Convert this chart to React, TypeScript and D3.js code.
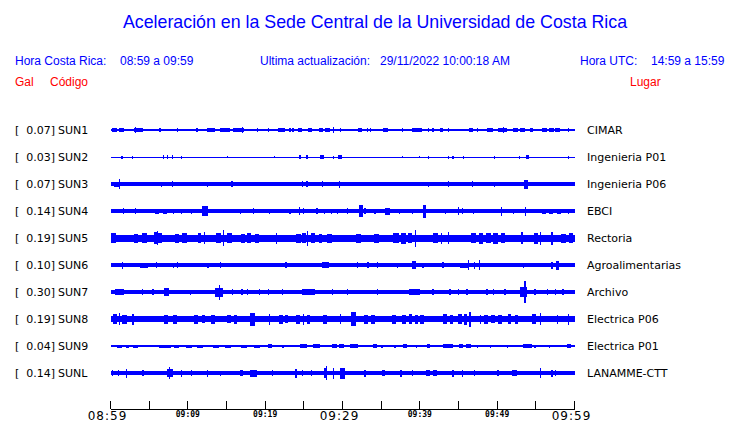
import * as d3 from "d3";

// stations, places and peak acceleration (Gal)
const stations = ["SUN1", "SUN2", "SUN3", "SUN4", "SUN5", "SUN6", "SUN7", "SUN8", "SUN9", "SUNL"];
const places = ["CIMAR", "Ingenieria P01", "Ingenieria P06", "EBCI", "Rectoria", "Agroalimentarias", "Archivo", "Electrica P06", "Electrica P01", "LANAMME-CTT"];
const peakGal = [0.07, 0.03, 0.07, 0.14, 0.19, 0.1, 0.3, 0.19, 0.04, 0.14];

// background noise half-amplitude of each trace
const noiseAmp = [0.8, 0.5, 1.7, 1.7, 3.5, 1.7, 2, 3, 0.7, 2];

// bursts: [minute after 08:59, half-amplitude, duration in minutes]
type Burst = [number, number, number?];
const sun1: Burst[] = [[0.5, 2, 0.6], [1.4, 1.8, 0.6], [3.6, 2.2, 1.2], [3.2, 3], [6.4, 1.8], [8.7, 1.6], [11.2, 1.6], [13.0, 1.8, 1.0], [14.8, 1.8, 1.2], [16.6, 2, 1.4], [17.1, 3], [19.0, 1.8], [20.4, 1.8], [22.1, 2.2, 1.0], [23.2, 1.6], [23.6, 1.6], [24.5, 1.8, 0.5], [25.8, 1.8, 0.6], [27.2, 1.8, 0.6], [28.1, 2, 0.6], [28.8, 3], [29.7, 1.6], [32.3, 1.8, 0.5], [33.2, 1.6], [33.6, 1.6], [35.6, 2, 0.6], [37.8, 1.6], [39.6, 2, 1.3], [41.1, 1.6], [41.7, 1.6], [42.8, 1.8, 0.4], [43.7, 1.6], [46.6, 1.8, 0.6], [47.5, 1.6], [49.1, 2, 0.8], [50.7, 2, 1.2], [50.8, 3], [52.4, 2, 0.6], [53.3, 1.8, 0.6], [54.4, 1.8, 0.4], [56.1, 2, 0.6], [57.0, 1.8, 0.6], [57.8, 2, 0.6], [59.2, 1.8]];
const sun2: Burst[] = [[1.5, 1.5], [2.8, 1.5], [6.9, 1.8], [7.4, 1.8], [8.0, 1.8], [9.2, 1.5], [15.1, 1.2], [21.2, 1.2], [24.5, 1.8], [25.4, 1.8], [27.3, 2, 0.5], [28.8, 1.5], [29.7, 2, 0.5], [37.8, 1.2], [40.0, 1.2], [41.1, 1.5], [43.7, 1.5], [44.3, 1.5], [45.6, 1.5], [49.7, 1.5], [52.9, 1.5], [53.9, 2, 0.4], [59.2, 1.5]];
const sun3: Burst[] = [[0.8, 2.5, 0.8], [1.2, 5], [6.6, 2.5], [8.0, 3], [12.5, 2.5], [15.7, 3, 0.3], [24.8, 3], [25.4, 3], [27.4, 3], [29.6, 3.5], [41.1, 2.5], [43.7, 3], [46.8, 3], [49.0, 2.3, 0.8], [49.7, 2.5], [53.7, 4.5, 0.5]];
const sun4: Burst[] = [[0.3, 2.3, 0.6], [1.7, 3], [3.2, 3], [6.0, 2.5, 0.5], [7.0, 2.5, 0.5], [8.1, 2.5], [9.2, 2.5], [10.5, 2.5], [12.2, 5, 0.8], [14.0, 2.3, 0.5], [15.0, 2.3, 0.5], [16.0, 2.3, 0.5], [16.8, 2.5], [18.5, 3], [20.6, 2.5], [23.2, 2.5], [24.4, 4], [25.0, 3], [26.7, 3], [27.7, 2.5], [28.6, 2.5], [29.4, 2.5], [30.6, 3], [32.4, 6, 0.6], [32.9, 3], [34.2, 2.5], [35.8, 3.5, 0.6], [37.4, 2.5], [39.1, 2.5], [40.6, 6.5, 0.5], [43.3, 2.5], [45.0, 4], [45.5, 3], [46.9, 2.5], [50.6, 4.5], [52.1, 2.5], [53.7, 4.5], [56.0, 2.5, 0.5], [57.0, 2.5, 0.5], [58.0, 2.5, 0.5], [59.2, 2.5]];
const sun5: Burst[] = [[0.4, 5, 0.6], [3.3, 4.5, 0.6], [4.4, 5, 0.6], [5.8, 6, 0.4], [6.1, 7], [6.4, 5, 0.4], [8.6, 4.5, 0.6], [9.6, 5, 0.6], [11.5, 5, 0.5], [12.2, 6], [14.0, 5, 0.6], [14.6, 8], [15.4, 5, 0.6], [17.1, 4.5, 0.5], [17.9, 5, 0.6], [18.9, 4.5, 0.5], [21.5, 5.5], [24.3, 4.5, 0.6], [25.0, 5, 0.5], [25.5, 7.5], [26.2, 5, 0.6], [27.1, 4.5, 0.4], [28.3, 4.5, 0.6], [32.1, 4.5, 0.6], [34.4, 4.5, 0.6], [36.9, 5, 0.7], [37.9, 5.5, 0.6], [38.7, 5, 0.5], [39.4, 8.5], [42.0, 5, 0.6], [42.8, 5.5], [43.7, 6], [46.9, 5, 0.6], [47.9, 5.5, 0.5], [48.9, 5, 0.6], [49.8, 5.5, 0.6], [50.7, 5, 0.5], [53.2, 6], [55.0, 5.5, 0.5], [55.6, 6.5], [57.1, 6.5], [58.6, 4.5, 0.6], [59.5, 5, 0.5]];
const sun6: Burst[] = [[1.6, 3.5], [4.3, 2.5, 1], [5.9, 3], [8.1, 2.5], [8.7, 3], [12.6, 2.5], [14.2, 3], [22.7, 3], [27.8, 3, 0.8], [31.9, 3], [33.3, 3], [34.5, 3], [37.1, 2.5], [39.3, 4, 0.5], [40.4, 2.5], [43.0, 3], [45.7, 2.5, 1], [46.3, 5], [47.1, 3.5], [47.7, 5], [53.4, 2.5], [57.1, 3.5], [57.8, 4.5, 0.5]];
const sun7: Burst[] = [[1.2, 3, 1.2], [4.1, 3], [5.5, 3], [7.2, 4, 0.6], [10.3, 2.5], [14.0, 4.5, 1], [14.1, 7.5], [15.8, 3], [17.0, 3], [17.7, 3], [19.3, 3], [20.4, 3], [22.2, 3], [25.6, 3, 1.8], [28.7, 3], [30.6, 3], [34.5, 3], [39.3, 3, 1.4], [41.7, 3], [43.9, 3], [45.0, 3], [46.1, 3], [48.7, 3], [49.5, 3], [51.0, 3], [53.4, 5, 0.8], [53.6, 11], [54.9, 3], [56.5, 3], [57.5, 3], [58.5, 3]];
const sun8: Burst[] = [[0.6, 5, 0.6], [1.2, 6], [1.8, 4.5, 0.6], [2.9, 5.5], [7.2, 4.5, 0.5], [8.3, 4.5, 0.5], [11.1, 4.5, 0.5], [12.0, 4, 0.4], [13.3, 4.5, 0.5], [15.3, 4, 0.5], [16.2, 4.5, 0.4], [18.4, 6.5, 0.6], [20.6, 5.5], [22.0, 4.5, 0.5], [22.8, 4, 0.4], [24.3, 4.5, 0.5], [25.0, 5.5], [25.6, 4.5, 0.4], [27.7, 4.5, 0.5], [29.7, 5], [31.4, 7, 0.6], [33.0, 4.5, 0.5], [33.9, 4.5, 0.5], [36.7, 4.5, 0.5], [38.0, 4.5, 0.5], [38.8, 5, 0.5], [39.6, 4.5, 0.4], [40.3, 4.5, 0.5], [43.3, 5, 0.5], [44.1, 4.5, 0.4], [45.2, 5, 0.5], [45.9, 5.5, 0.4], [46.5, 7.5], [47.8, 4.5], [48.6, 4.5, 0.5], [49.5, 4, 0.5], [50.4, 4.5, 0.5], [51.6, 5, 0.5], [52.5, 4.5, 0.5], [54.8, 5, 0.5], [55.6, 6], [57.8, 4.5], [59.2, 5.5]];
const sun9: Burst[] = [[1.2, 1.5, 0.6], [2.2, 1.5, 0.5], [3.2, 1.5, 0.6], [6.9, 1.5, 1.3], [7.5, 1.5, 0.6], [8.5, 1.5, 0.6], [10.2, 1.5, 0.8], [11.6, 1.5, 0.8], [13.6, 1.5, 0.8], [15.2, 1.5, 0.8], [17.3, 1.5, 0.8], [18.9, 1.5, 0.8], [20.6, 2, 0.5], [22.3, 1.5], [25.0, 2, 0.9], [26.6, 2, 0.9], [29.0, 2, 0.6], [29.9, 1.7, 0.6], [31.5, 2, 1], [34.2, 1.7, 0.5], [35.1, 1.5], [36.8, 1.5], [38.1, 1.7, 0.5], [39.6, 1.5], [41.1, 1.7, 0.4], [43.7, 2, 1.3], [45.3, 1.7, 0.6], [46.3, 1.7, 0.6], [47.5, 1.5], [49.1, 1.5], [51.3, 1.5], [53.9, 1.7, 1.2], [54.9, 1.5], [56.8, 1.5], [59.3, 2, 0.6]];
const sunL: Burst[] = [[0.3, 3], [1.0, 3], [2.1, 4.5], [4.2, 3], [7.7, 4, 0.8], [7.6, 6], [9.2, 3.5], [10.5, 3], [12.5, 3.5], [14.2, 2.5], [16.8, 3], [17.0, 3], [18.5, 3.5, 0.8], [20.9, 3], [24.0, 4.5], [24.8, 3], [26.0, 3], [27.8, 5, 0.5], [27.9, 7], [28.8, 5.5], [30.0, 5.5, 0.6], [32.9, 3.5], [35.3, 3, 0.4], [37.6, 3.5, 0.3], [39.1, 3], [41.0, 3, 0.5], [42.0, 3, 0.5], [44.3, 3.5], [45.5, 3.5], [47.1, 3], [50.1, 3], [52.2, 3, 0.6], [55.6, 5], [57.1, 3.5], [57.5, 3]];
const bursts = [sun1, sun2, sun3, sun4, sun5, sun6, sun7, sun8, sun9, sunL];

// axis
const majorLabels = ["08:59", "09:29", "09:59"];
const minorLabels = ["09:09", "09:19", "09:39", "09:49"];

const BLUE = "#0000ff";
const RED = "#ff0000";

export default function App() {
  const width = 740;
  const height = 423;

  const start = new Date(2022, 10, 29, 8, 59);
  const end = d3.timeMinute.offset(start, 60);
  const at = (m: number) => new Date(start.getTime() + m * 60000);
  const parse = d3.timeParse("%Y-%m-%d %H:%M");

  const x = d3.scaleTime().domain([start, end]).range([110.5, 574.5]);
  const y = d3.scalePoint<string>().domain(stations).range([130, 373]);
  const amp = d3.scaleLinear().domain([0, 10]).range([0, 10]);

  const axisY = 409;
  const ticks = d3.range(0, 61, 5).map(at);
  const labelDate = (s: string) => parse(`2022-11-29 ${s}`) as Date;

  const headerFont = "'Liberation Sans', Arial, sans-serif";
  const bodyFont = "'DejaVu Sans', sans-serif";

  return (
    <svg width={width} height={height} style={{ position: "absolute", left: 0, top: 0, background: "#fff" }}>
      <text x={375} y={28} textAnchor="middle" fontFamily={headerFont} fontSize={17.8} fill={BLUE}>
        Aceleración en la Sede Central de la Universidad de Costa Rica
      </text>
      <g fontFamily={headerFont} fontSize={12} fill={BLUE}>
        <text x={15} y={65}>Hora Costa Rica:</text>
        <text x={120} y={65}>08:59 a 09:59</text>
        <text x={260} y={65}>Ultima actualización:</text>
        <text x={380} y={65}>29/11/2022 10:00:18 AM</text>
        <text x={580} y={65}>Hora UTC:</text>
        <text x={651} y={65}>14:59 a 15:59</text>
      </g>
      <g fontFamily={headerFont} fontSize={12} fill={RED}>
        <text x={15} y={86}>Gal</text>
        <text x={50} y={86}>Código</text>
        <text x={630} y={86}>Lugar</text>
      </g>

      {stations.map((s, i) => {
        const cy = y(s) as number;
        return (
          <g key={s}>
            <g fontFamily={bodyFont} fontSize={11} fill="#000">
              <text x={15} y={cy + 4}>[</text>
              <text x={55} y={cy + 4} textAnchor="end">{peakGal[i].toFixed(2)}]</text>
              <text x={58} y={cy + 4}>{s}</text>
              <text x={587} y={cy + 4}>{places[i]}</text>
            </g>
            <g fill={BLUE} shapeRendering="crispEdges">
              <rect
                x={x(start)}
                width={x(end) - x(start)}
                y={cy - amp(noiseAmp[i])}
                height={Math.max(1, 2 * amp(noiseAmp[i]))}
              />
              {bursts[i].map(([t, a, w = 0.16], k) => {
                const x0 = x(at(Math.max(0, t - w / 2)));
                const x1 = x(at(Math.min(60, t + w / 2)));
                return (
                  <rect
                    key={k}
                    x={x0}
                    width={Math.max(1.2, x1 - x0)}
                    y={cy - amp(a)}
                    height={2 * amp(a)}
                  />
                );
              })}
            </g>
          </g>
        );
      })}

      <g stroke="#000" strokeWidth={1} shapeRendering="crispEdges">
        <line x1={x(start)} x2={x(end)} y1={axisY} y2={axisY} />
        {ticks.map((t, i) => (
          <line key={i} x1={x(t)} x2={x(t)} y1={axisY - 8} y2={axisY} />
        ))}
      </g>
      <g fill="#000" textAnchor="middle">
        {majorLabels.map((l) => (
          <text key={l} x={x(labelDate(l)) - 3} y={axisY + 11} fontFamily={bodyFont} fontSize={12} letterSpacing={1}>
            {l}
          </text>
        ))}
        {minorLabels.map((l) => (
          <text key={l} x={x(labelDate(l))} y={axisY + 8} fontFamily="'DejaVu Sans Mono', monospace" fontSize={8} fontWeight="bold">
            {l}
          </text>
        ))}
      </g>
    </svg>
  );
}
